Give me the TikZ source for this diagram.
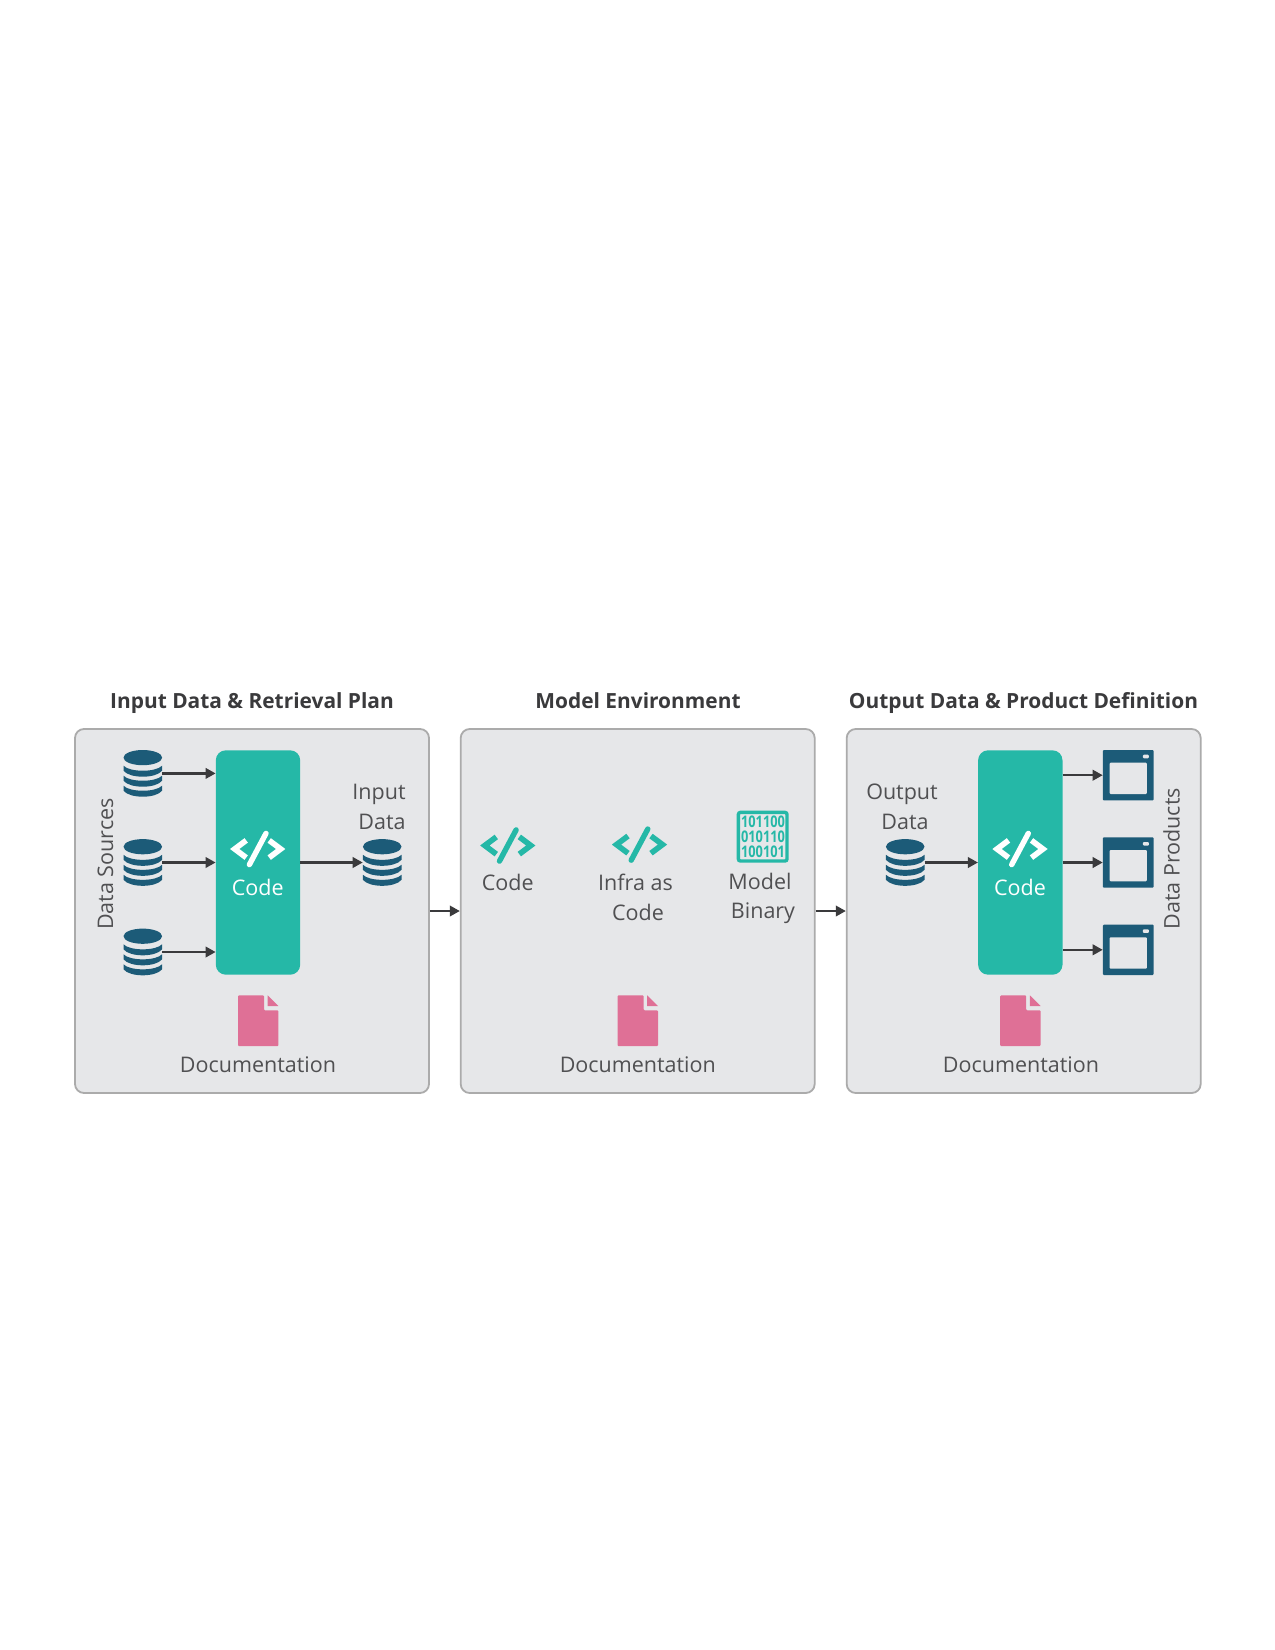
\documentclass[tikz,border=0pt]{standalone}
\usepackage{fontspec}
\usepackage{graphicx}
\setmainfont{Open Sans}
\usetikzlibrary{arrows.meta,positioning}
\definecolor{panelfill}{HTML}{E6E7E9}
\definecolor{panelline}{HTML}{ABABAB}
\definecolor{teal}{HTML}{25B8A7}
\definecolor{navy}{HTML}{1C5B78}
\definecolor{pinkdoc}{HTML}{DF7096}
\definecolor{ink}{HTML}{3A3A3C}
\definecolor{labelink}{HTML}{505052}
\tikzset{
  panelbox/.style={draw=panelline,fill=panelfill,line width=1.8pt,rounded corners=9pt,inner sep=0,minimum width=354pt,minimum height=364pt},
  codebox/.style={fill=teal,rounded corners=10pt,inner sep=0,minimum width=84.4pt,minimum height=224.4pt},
  flow/.style={draw=ink,line width=2.2pt,-{Triangle[length=10pt,width=10.5pt]},shorten >=0pt},
  title/.style={anchor=base,inner sep=0,text=ink,font=\fontsize{20.9}{24}\selectfont\bfseries},
  lab/.style={anchor=base,inner sep=0,text=labelink,font=\fontsize{21.5}{26}\selectfont},
  whitelab/.style={lab,text=white},
  rotlab/.style={lab,rotate=90},
  dbicon/.style={inner sep=0,minimum width=38.6pt,minimum height=46.8pt,path picture={
    \begin{scope}[shift={(path picture bounding box.center)}]
      \fill[navy] (0,-15.8) ellipse [x radius=19.3,y radius=7.6];
      \foreach \a in {-7.7,2.3,12.3}{
        \fill[navy] (-19.3,\a) .. controls (-13,\a+6.7) and (13,\a+6.7) .. (19.3,\a)
          -- (19.3,\a+5) .. controls (13,\a+13) and (-13,\a+13) .. (-19.3,\a+5) -- cycle;
      }
    \end{scope}}},
  codeicon/.style={inner sep=0,minimum width=55pt,minimum height=38pt,path picture={
    \begin{scope}[shift={(path picture bounding box.center)}]
      \draw[#1,line width=5.6pt,miter limit=10] (-11.5,-8.6) -- (-23,0) -- (-11.5,8.6);
      \draw[#1,line width=5.6pt,miter limit=10] (11.5,-8.6) -- (23,0) -- (11.5,8.6);
      \draw[#1,line width=5.4pt,line cap=round] (8.3,-15.6) -- (-8.3,15.6);
    \end{scope}}},
  docicon/.style={inner sep=0,minimum width=40.4pt,minimum height=50.8pt,path picture={
    \begin{scope}[shift={(path picture bounding box.center)}]
      \fill[pinkdoc,rounded corners=1pt] (-20.2,-25.4) -- (5.8,-25.4) -- (5.8,-10.4) -- (20.2,-10.4) -- (20.2,25.4) -- (-20.2,25.4) -- cycle;
      \fill[pinkdoc] (9.4,-25.4) -- (20.2,-14.7) -- (9.4,-14.7) -- cycle;
    \end{scope}}},
  windowicon/.style={inner sep=0,minimum width=50.8pt,minimum height=50.4pt,fill=navy,rounded corners=1pt,path picture={
    \begin{scope}[shift={(path picture bounding box.center)}]
      \fill[panelfill,rounded corners=1pt] (-18.7,-12.5) rectangle (18.6,18.8);
      \fill[panelfill,rounded corners=1pt] (14.6,-20.5) rectangle (20.6,-16.9);
    \end{scope}}},
  binicon/.style={draw=teal,line width=3.4pt,rounded corners=2pt,inner sep=0,minimum width=48.6pt,minimum height=48.6pt},
  bindigits/.style={anchor=base,inner sep=0,text=teal,font=\fontsize{16}{15}\selectfont\bfseries}
}
\newcommand{\bindigs}[1]{\scalebox{0.8}[1]{#1}}
\begin{document}
\begin{tikzpicture}[x=1pt,y=-1pt]
\useasboundingbox (0,0) rectangle (1275,1650);
\fill[white] (0,0) rectangle (1275,1650);

% Panels
\node[panelbox] (p1) at (252,911) {};
\node[panelbox] (p2) at (637.7,911) {};
\node[panelbox] (p3) at (1023.7,911) {};

% Titles
\node[title] (t1) at (252,708.5) {Input Data \& Retrieval Plan};
\node[title] (t2) at (638,708.5) {Model Environment};
\node[title] (t3) at (1023.5,708.5) {Output Data \& Product Definition};

% Panel 1
\node[codebox] (c1) at (258,862.5) {};
\node[dbicon] (d1) at (142.8,773.4) {};
\node[dbicon] (d2) at (142.8,862.5) {};
\node[dbicon] (d3) at (142.8,952) {};
\node[dbicon] (d4) at (382.2,862.5) {};
\node[codeicon=white] (ci1) at (257.7,849) {};
\node[whitelab] (cl1) at (257.7,895) {Code};
\node[lab] (il1) at (379,799) {Input};
\node[lab] (il2) at (382,829) {Data};
\node[rotlab,anchor=base] (ds) at (113,864) {Data Sources};
\node[docicon] (doc1) at (258.2,1020.7) {};
\node[lab] (dl1) at (258,1072) {Documentation};
\draw[flow] (d1.east) -- (d1.east -| c1.west);
\draw[flow] (d2.east) -- (d2.east -| c1.west);
\draw[flow] (d3.east) -- (d3.east -| c1.west);
\draw[flow] (c1.east) -- (d4.west);

% Panel 2
\node[codeicon=teal] (ci2) at (507.8,845.5) {};
\node[lab] (cl2) at (507.8,890) {Code};
\node[codeicon=teal] (ci3) at (639.5,844.6) {};
\node[lab] (ia1) at (635.5,890) {Infra as};
\node[lab] (ia2) at (638,920) {Code};
\node[binicon] (bin) at (762.7,836.7) {};
\node[bindigits] (b1) at (763,827.5) {\bindigs{101100}};
\node[bindigits] (b2) at (763,842.5) {\bindigs{010110}};
\node[bindigits] (b3) at (763,857.5) {\bindigs{100101}};
\node[lab] (ml1) at (760,889) {Model};
\node[lab] (ml2) at (763,918.5) {Binary};
\node[docicon] (doc2) at (637.8,1020.7) {};
\node[lab] (dl2) at (637.8,1072) {Documentation};

% Panel 3
\node[codebox] (c3) at (1020.3,862.5) {};
\node[dbicon] (d5) at (905.2,862.5) {};
\node[codeicon=white] (ci4) at (1020,849) {};
\node[whitelab] (cl3) at (1020,895) {Code};
\node[lab] (ol1) at (902,799) {Output};
\node[lab] (ol2) at (905,829) {Data};
\node[windowicon] (w1) at (1128.3,775.2) {};
\node[windowicon] (w2) at (1128.3,862.5) {};
\node[windowicon] (w3) at (1128.3,949.8) {};
\node[rotlab,anchor=base] (dp) at (1179.6,858.7) {Data Products};
\node[docicon] (doc3) at (1020.4,1020.7) {};
\node[lab] (dl3) at (1021,1072) {Documentation};
\draw[flow] (d5.east) -- (d5.east -| c3.west);
\draw[flow] (w1.west -| c3.east) -- (w1.west);
\draw[flow] (w2.west -| c3.east) -- (w2.west);
\draw[flow] (w3.west -| c3.east) -- (w3.west);

% Between panels
\draw[flow] (p1.east) -- (p2.west);
\draw[flow] (p2.east) -- (p3.west);
\end{tikzpicture}
\end{document}
